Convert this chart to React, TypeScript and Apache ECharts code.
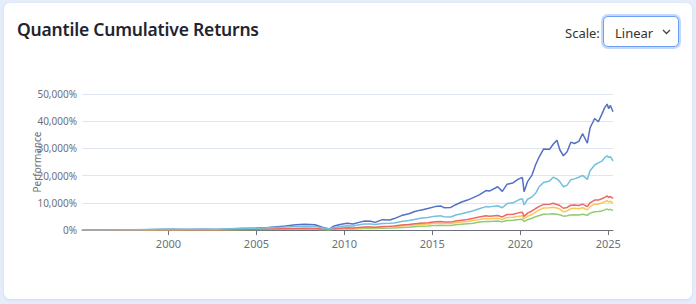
import React, { useEffect, useRef } from "react";
import * as echarts from "echarts";

const dates = [
  "1995-02-01", "1996-01-01", "1997-01-01", "1998-01-01", "1998-10-01", "1999-06-01", "2000-03-01", "2001-01-01",
  "2002-01-01", "2002-10-01", "2003-06-01", "2004-03-01", "2005-01-01", "2005-09-01", "2006-05-01", "2006-09-01",
  "2007-04-01", "2007-10-01", "2008-05-01", "2008-10-01", "2009-02-20", "2009-06-01", "2009-10-01", "2010-03-01",
  "2010-07-01", "2010-11-01", "2011-03-01", "2011-07-01", "2011-10-01", "2012-03-01", "2012-08-01", "2012-11-01",
  "2013-04-01", "2013-09-01", "2014-01-01", "2014-05-01", "2014-10-01", "2015-03-01", "2015-07-01", "2015-09-01",
  "2016-01-20", "2016-05-01", "2016-09-01", "2017-01-01", "2017-05-01", "2017-09-01", "2018-01-20", "2018-04-01",
  "2018-09-20", "2018-12-24", "2019-04-01", "2019-08-01", "2019-12-01", "2020-02-15", "2020-03-20", "2020-06-01",
  "2020-09-01", "2020-11-15", "2021-02-01", "2021-05-01", "2021-09-01", "2021-11-15", "2022-02-01", "2022-04-01",
  "2022-06-15", "2022-09-01", "2022-11-15", "2023-02-01", "2023-05-01", "2023-07-20", "2023-10-25", "2023-12-20",
  "2024-03-25", "2024-06-10", "2024-08-20", "2024-10-20", "2024-12-10", "2025-01-10", "2025-02-15", "2025-04-10",
];

const q1 = [
  0, 20, 50, 100, 120, 180, 250, 200, 250, 220, 400, 550, 700, 900, 1300, 1500,
  1900, 2100, 1900, 1000, 350, 1500, 2000, 2500, 2200, 2800, 3300, 3200, 2800, 3800, 3700, 4200,
  5300, 6000, 6800, 7300, 7900, 8600, 8800, 8200, 8300, 9300, 10300, 11000, 11900, 12900, 14500, 14300,
  15900, 14200, 16800, 17300, 18800, 19300, 14100, 17800, 20200, 24000, 27000, 29800, 29700, 31500, 33000, 29500,
  27300, 28800, 32300, 31800, 32600, 35400, 31900, 37500, 41000, 39800, 42500, 45000, 46300, 44600, 45800, 43500,
];
const q2 = [
  0, 5, 10, 20, 25, 30, 45, 60, 80, 70, 120, 150, 180, 210, 250, 270,
  310, 330, 310, 210, 130, 250, 350, 430, 400, 500, 580, 580, 530, 680, 700, 760,
  930, 1050, 1200, 1350, 1500, 1700, 1750, 1650, 1650, 1900, 2100, 2300, 2500, 2900, 3150, 3100,
  3300, 3000, 3500, 3600, 3850, 3950, 3100, 3800, 4300, 4900, 5300, 5800, 5900, 6000, 5800, 5600,
  5100, 5200, 5500, 5600, 5500, 5800, 5400, 6200, 6700, 6800, 7000, 7400, 7700, 7400, 7600, 7100,
];
const q3 = [
  0, 10, 20, 30, 40, 50, 70, 90, 110, 100, 170, 220, 270, 320, 380, 400,
  470, 500, 470, 320, 200, 380, 540, 650, 620, 780, 900, 900, 820, 1050, 1100, 1180,
  1450, 1620, 1850, 2000, 2200, 2450, 2500, 2350, 2350, 2650, 2900, 3150, 3450, 3900, 4200, 4150,
  4350, 3900, 4600, 4700, 5050, 5200, 4100, 5000, 5700, 6600, 7400, 8100, 8200, 8400, 8100, 7700,
  6700, 7000, 7800, 8000, 7800, 8200, 7400, 8600, 9500, 9500, 9900, 10400, 10800, 10300, 10600, 9800,
];
const q4 = [
  0, 10, 20, 40, 50, 60, 80, 100, 130, 120, 200, 260, 320, 380, 450, 480,
  560, 600, 560, 380, 250, 450, 650, 800, 750, 950, 1100, 1100, 1000, 1300, 1350, 1450,
  1800, 2000, 2300, 2500, 2700, 3000, 3100, 2900, 2900, 3300, 3600, 3900, 4300, 4800, 5200, 5100,
  5300, 4800, 5700, 5800, 6300, 6500, 5000, 6200, 7000, 7900, 8700, 9400, 9500, 9800, 9400, 9000,
  8000, 8300, 9100, 9200, 9000, 9500, 8600, 10000, 11000, 11000, 11500, 12000, 12500, 12000, 12300, 11600,
];
const q5 = [
  0, 30, 60, 120, 200, 250, 300, 280, 300, 260, 450, 600, 650, 800, 1000, 1100,
  1300, 1400, 1300, 800, 400, 900, 1300, 1600, 1500, 1900, 2200, 2200, 2000, 2400, 2500, 2600,
  3100, 3500, 3900, 4300, 4600, 5100, 5200, 4900, 4800, 5500, 6000, 6500, 7100, 7800, 8600, 8500,
  8900, 8200, 9700, 10000, 11100, 11500, 9200, 11300, 12200, 13500, 16000, 17500, 18000, 19400, 18800, 17800,
  15900, 16500, 18500, 18800, 19400, 20100, 18600, 21800, 23900, 24700, 25300, 26600, 27300, 26700, 27000, 25400,
];

const seriesNames = ["Quantile 1", "Quantile 2", "Quantile 3", "Quantile 4", "Quantile 5"];
const seriesValues = [q1, q2, q3, q4, q5];
const seriesColors = ["#5470c6", "#91cc75", "#fac858", "#ee6666", "#73c0de"];
const yearTicks = [2000, 2005, 2010, 2015, 2020, 2025];

const FONT = "'Noto Sans', 'DejaVu Sans', sans-serif";

function Chart() {
  const ref = useRef<HTMLDivElement>(null);
  useEffect(() => {
    if (!ref.current) return;
    const chart = echarts.init(ref.current, undefined, { renderer: "svg" });
    const ts = dates.map((d) => new Date(d + "T00:00:00Z").getTime());
    const yearTs = yearTicks.map((y) => Date.UTC(y, 0, 1));
    chart.setOption({
      animation: false,
      textStyle: { fontFamily: FONT },
      grid: { left: 78, right: 79, top: 91, bottom: 69 },
      xAxis: {
        type: "value",
        min: ts[0],
        max: ts[ts.length - 1],
        axisLine: { show: true, onZero: false, lineStyle: { color: "#6e7079" } },
        axisTick: { show: true, customValues: yearTs, length: 5 },
        axisLabel: {
          customValues: yearTs,
          formatter: (v: number) => String(new Date(v).getUTCFullYear()),
          color: "#6e7079",
          fontSize: 11,
          fontFamily: FONT,
          margin: 8,
        },
        splitLine: { show: false },
      },
      yAxis: {
        type: "value",
        min: 0,
        max: 50000,
        interval: 10000,
        name: "Performance",
        nameLocation: "middle",
        nameGap: 40,
        nameMoveOverlap: false,
        nameTextStyle: { color: "#6e7079", fontSize: 10, fontFamily: FONT },
        axisLabel: {
          formatter: (v: number) => v.toLocaleString("en-US") + "%",
          color: "#6e7079",
          fontSize: 10,
          fontFamily: FONT,
          margin: 5,
        },
        splitLine: { lineStyle: { color: "#e0e6f1" } },
        axisLine: { show: false },
        axisTick: { show: false },
      },
      series: seriesNames.map((name, i) => ({
        name,
        type: "line",
        showSymbol: false,
        color: seriesColors[i],
        lineStyle: { width: 1.5, color: seriesColors[i] },
        data: ts.map((t, j) => [t, seriesValues[i][j]]),
      })),
    });
    return () => chart.dispose();
  }, []);
  return <div ref={ref} style={{ position: "absolute", left: 0, top: 0, width: 688, height: 296 }} />;
}

export default function App() {
  return (
    <div
      style={{
        position: "fixed",
        left: 0,
        top: 0,
        width: 696,
        height: 304,
        background: "#e5edfb",
        fontFamily: FONT,
      }}
    >
      <div
        style={{
          position: "absolute",
          left: 4,
          top: 3,
          width: 688,
          height: 296,
          background: "#ffffff",
          borderRadius: 6,
          boxShadow: "0 1px 3px rgba(60,90,160,0.12)",
        }}
      >
        <Chart />
        <div
          style={{
            position: "absolute",
            left: 13,
            top: 14,
            fontSize: 17.5,
            fontWeight: 600,
            color: "#1f2430",
            letterSpacing: -0.2,
            whiteSpace: "nowrap",
          }}
        >
          Quantile Cumulative Returns
        </div>
        <div
          style={{
            position: "absolute",
            left: 561,
            top: 21,
            fontSize: 13,
            color: "#333",
          }}
        >
          Scale:
        </div>
        <div
          style={{
            position: "absolute",
            left: 599,
            top: 13,
            width: 76,
            height: 31,
            border: "1px solid #6e9ff5",
            boxShadow: "0 0 0 2px #c3d8fc",
            borderRadius: 5,
            background: "#fff",
            boxSizing: "border-box",
          }}
        >
          <span style={{ position: "absolute", left: 11, top: 7, fontSize: 13, color: "#333" }}>Linear</span>
          <svg style={{ position: "absolute", left: 58, top: 12 }} width="9" height="6" viewBox="0 0 9 6">
            <polyline points="1,1 4.5,4.5 8,1" fill="none" stroke="#444" strokeWidth="1.3" />
          </svg>
        </div>
      </div>
    </div>
  );
}
